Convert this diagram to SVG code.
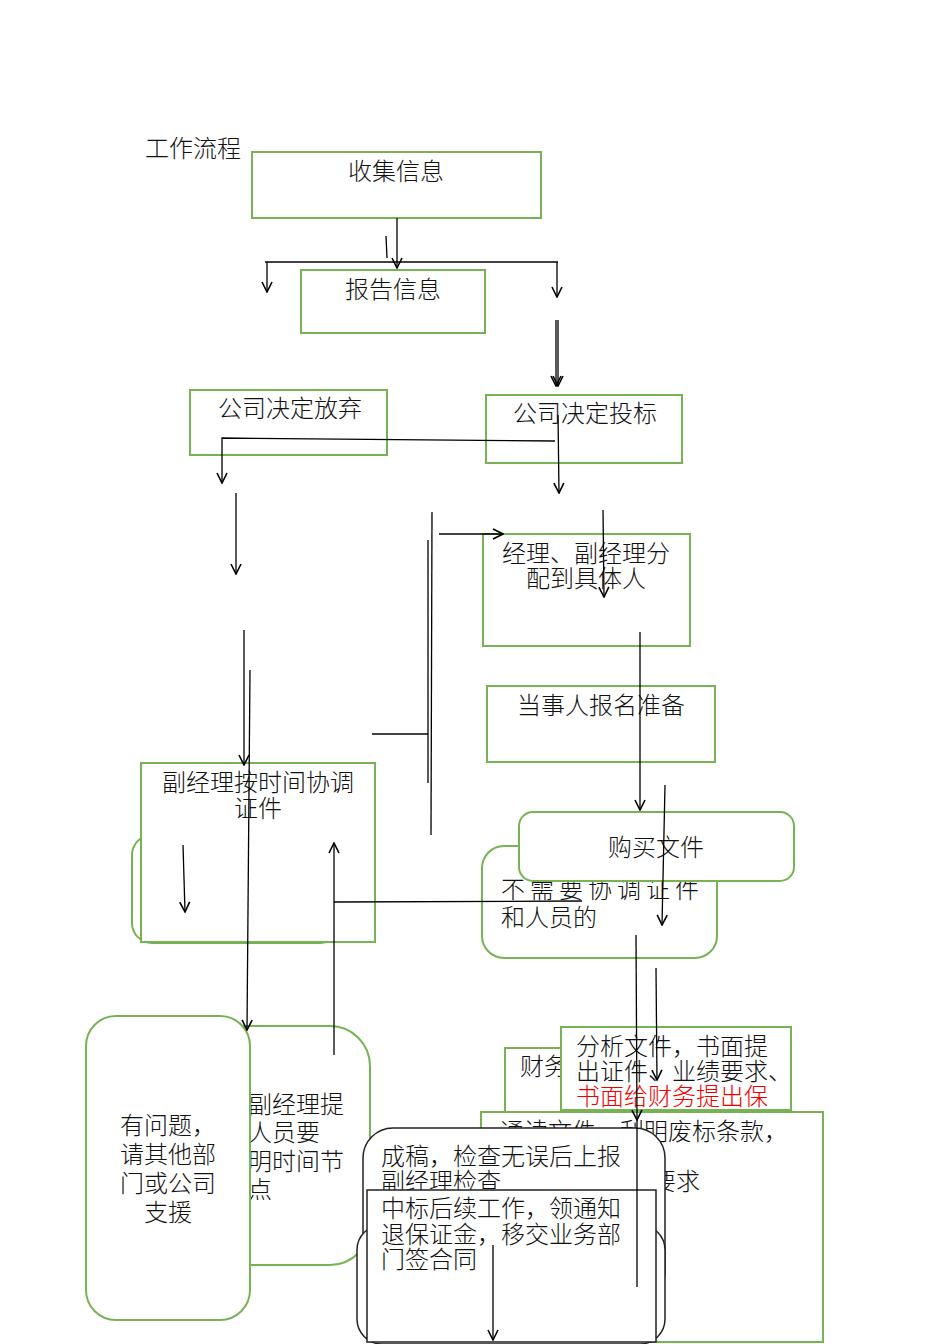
<svg xmlns="http://www.w3.org/2000/svg" width="950" height="1344" viewBox="0 0 950 1344">
<style>
.b{fill:#fff;stroke:#77b255;stroke-width:2}
.k{fill:#fff;stroke:#222;stroke-width:1.5}
.t{font-family:"Noto Sans CJK SC",sans-serif;font-size:24px;font-weight:300;fill:#111}
.l{stroke:#000;stroke-width:1.3;fill:none}
</style>
<defs><marker id="a" markerWidth="12" markerHeight="12" refX="11" refY="6" orient="auto" markerUnits="userSpaceOnUse" viewBox="0 0 12 12"><path d="M1,1 L11,6 L1,11" fill="none" stroke="#000" stroke-width="1.6"/></marker></defs>
<text class="t" x="145" y="157">工作流程</text>
<g id="n1"><rect class="b" x="252" y="152" width="289" height="66"/><text class="t" x="396" y="180" text-anchor="middle">收集信息</text></g>
<g id="n2"><rect class="b" x="301" y="270" width="184" height="63"/><text class="t" x="393" y="298" text-anchor="middle">报告信息</text></g>
<g id="n3"><rect class="b" x="190" y="390" width="197" height="65"/><text class="t" x="290" y="417" text-anchor="middle">公司决定放弃</text></g>
<g id="n4"><rect class="b" x="486" y="395" width="196" height="68"/><text class="t" x="585" y="422" text-anchor="middle">公司决定投标</text></g>
<g id="n5"><rect class="b" x="483" y="534" width="207" height="112"/><text class="t" x="586" y="562" text-anchor="middle">经理、副经理分</text><text class="t" x="586" y="587" text-anchor="middle">配到具体人</text></g>
<g id="n6"><rect class="b" x="487" y="686" width="228" height="76"/><text class="t" x="601" y="714" text-anchor="middle">当事人报名准备</text></g>
<g id="n7"><rect class="b" x="132" y="835" width="208" height="108" rx="20"/><rect class="b" x="141" y="763" width="234" height="179"/><text class="t" x="258" y="791" text-anchor="middle">副经理按时间协调</text><text class="t" x="258" y="817" text-anchor="middle">证件</text></g>
<g id="n8"><rect class="b" x="482" y="846" width="235" height="112" rx="22"/><text class="t" x="501" y="898" letter-spacing="5">不需要协调证件</text><text class="t" x="501" y="926">和人员的</text></g>
<g id="n9"><rect class="b" x="519" y="812" width="275" height="69" rx="14"/><text class="t" x="656" y="856" text-anchor="middle">购买文件</text></g>
<g id="n10"><rect class="b" x="200" y="1026" width="170" height="239" rx="40"/><text class="t" x="248" y="1113">副经理提</text><text class="t" x="248" y="1141">人员要</text><text class="t" x="248" y="1170">明时间节</text><text class="t" x="248" y="1198">点</text></g>
<g id="n11"><rect class="b" x="86" y="1016" width="164" height="304" rx="30"/><text class="t" x="168" y="1134" text-anchor="middle">有问题，</text><text class="t" x="168" y="1163" text-anchor="middle">请其他部</text><text class="t" x="168" y="1192" text-anchor="middle">门或公司</text><text class="t" x="168" y="1221" text-anchor="middle">支援</text></g>
<g id="n12"><rect class="b" x="505" y="1048" width="120" height="70"/><text class="t" x="520" y="1075">财务</text></g>
<g id="n13"><rect class="b" x="561" y="1027" width="230" height="83"/><text class="t" x="576" y="1055">分析文件，书面提</text><text class="t" x="576" y="1080">出证件、业绩要求、</text><text class="t" x="576" y="1105" style="fill:#e00">书面给财务提出保</text></g>
<g id="n14"><rect class="b" x="481" y="1112" width="342" height="230"/><text class="t" x="500" y="1140">通读文件，利明废标条款，</text><text class="t" x="500" y="1166">拟定大纲，记</text><text class="t" x="580" y="1190">、封标要求</text></g>
<g id="n15"><rect class="k" x="363" y="1128" width="302" height="175" rx="30"/><text class="t" x="381" y="1165">成稿，检查无误后上报</text><text class="t" x="381" y="1190">副经理检查</text></g>
<g id="n16"><rect class="k" x="357" y="1225" width="308" height="119" rx="25"/><rect class="k" x="367" y="1190" width="289" height="152"/><text class="t" x="381" y="1217">中标后续工作，领通知</text><text class="t" x="381" y="1243">退保证金，移交业务部</text><text class="t" x="381" y="1268">门签合同</text></g>
<g id="connectors">
<path class="l" d="M386,236 L387,258"/>
<path class="l" d="M397,218 V268" marker-end="url(#a)"/>
<path class="l" d="M265,262 H558"/>
<path class="l" d="M267,262 V292" marker-end="url(#a)"/>
<path class="l" d="M557,262 V297" marker-end="url(#a)"/>
<path class="l" d="M556,320 V386" marker-end="url(#a)"/>
<path class="l" d="M558,320 V386" marker-end="url(#a)"/>
<path class="l" d="M555,441 L222,438 V483" marker-end="url(#a)"/>
<path class="l" d="M558,415 L559,493" marker-end="url(#a)"/>
<path class="l" d="M236,493 V574" marker-end="url(#a)"/>
<path class="l" d="M432,512 L431,835"/>
<path class="l" d="M439,534 H503" marker-end="url(#a)"/>
<path class="l" d="M428,540 V783"/>
<path class="l" d="M372,734 H428"/>
<path class="l" d="M603,510 L604,597" marker-end="url(#a)"/>
<path class="l" d="M640,632 V810" marker-end="url(#a)"/>
<path class="l" d="M665,785 L662,925" marker-end="url(#a)"/>
<path class="l" d="M244,630 V765" marker-end="url(#a)"/>
<path class="l" d="M250,670 L247,1030" marker-end="url(#a)"/>
<path class="l" d="M183,845 L185,912" marker-end="url(#a)"/>
<path class="l" d="M334,1055 V843" marker-end="url(#a)"/>
<path class="l" d="M334,902 L582,901"/>
<path class="l" d="M636,935 L637,1120" marker-end="url(#a)"/>
<path class="l" d="M637,1120 V1287"/>
<path class="l" d="M656,968 L657,1080" marker-end="url(#a)"/>
<path class="l" d="M493,1245 V1340" marker-end="url(#a)"/>
</g>
</svg>
